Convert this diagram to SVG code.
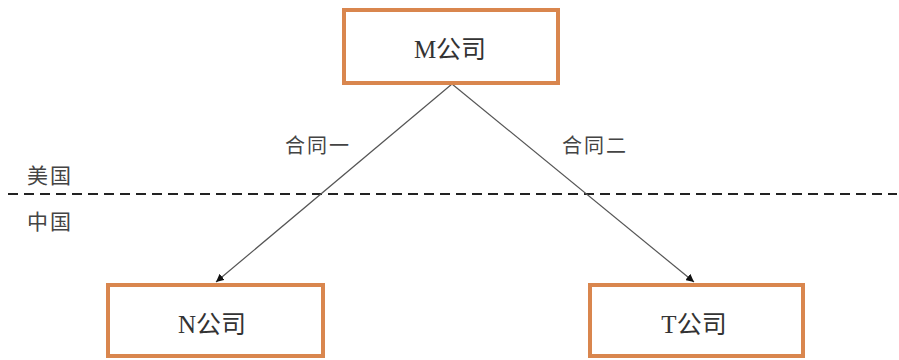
<svg xmlns="http://www.w3.org/2000/svg" width="899" height="360" viewBox="0 0 899 360">
<style>
.box{fill:#fff;stroke:#D9864E;stroke-width:4}
.lbl{font-family:"Liberation Serif","Noto Sans CJK SC",serif;font-size:25px;fill:#333;text-anchor:middle}
.sm{font-family:"Noto Sans CJK SC",sans-serif;font-size:20px;fill:#444;letter-spacing:2px}
.edge{stroke:#555;stroke-width:1.2;fill:none}
</style>
<defs>
<marker id="ah" viewBox="0 0 10 10" refX="10" refY="5" markerWidth="8" markerHeight="8" orient="auto" markerUnits="userSpaceOnUse">
<path d="M0,0 L10,5 L0,10 z" fill="#111"/>
</marker>
</defs>
<rect width="899" height="360" fill="#fff"/>
<g id="divider">
<line x1="8" y1="194" x2="897" y2="194" stroke="#222" stroke-width="2.2" stroke-dasharray="10,6"/>
<text class="sm" x="27" y="183" style="font-size:21px">美国</text>
<text class="sm" x="27" y="229" style="font-size:21px">中国</text>
</g>
<g id="connectors">
<line class="edge" x1="452" y1="84" x2="216" y2="282" marker-end="url(#ah)"/>
<line class="edge" x1="452" y1="84" x2="694" y2="282" marker-end="url(#ah)"/>
<text class="sm" x="285" y="153">合同一</text>
<text class="sm" x="562" y="153">合同二</text>
</g>
<g id="nodeM">
<rect class="box" x="344" y="10" width="214" height="73"/>
<text class="lbl" x="450" y="58">M公司</text>
</g>
<g id="nodeN">
<rect class="box" x="108" y="285" width="215" height="71"/>
<text class="lbl" x="212" y="333">N公司</text>
</g>
<g id="nodeT">
<rect class="box" x="590" y="285" width="213" height="71"/>
<text class="lbl" x="694" y="333">T公司</text>
</g>
</svg>
